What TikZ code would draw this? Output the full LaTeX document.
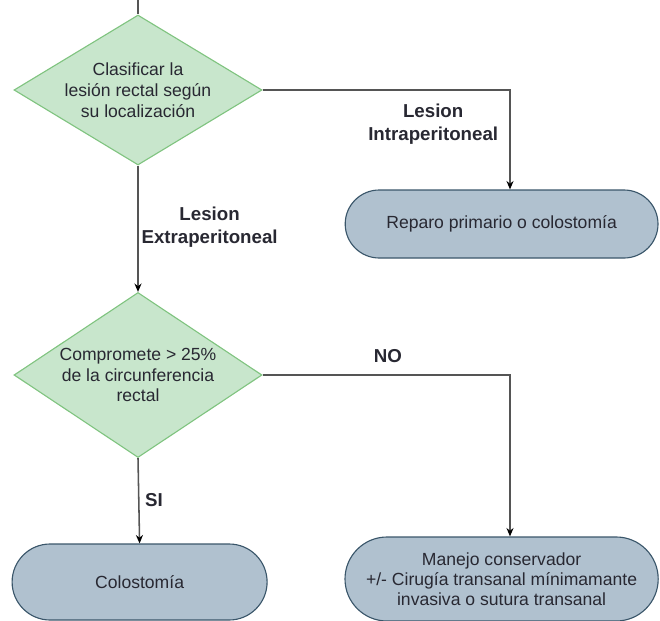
\documentclass[tikz,border=0pt]{standalone}
\usepackage{fontspec}
\setmainfont{Liberation Sans}
\usepackage{tikz}
\usetikzlibrary{calc}
\usetikzlibrary{shapes.geometric, shapes.misc}
\usetikzlibrary{arrows.meta}
\usepackage{xcolor}

\definecolor{decfill}{RGB}{200,230,204}
\definecolor{decdraw}{RGB}{128,196,128}
\definecolor{endfill}{RGB}{176,193,207}
\definecolor{enddraw}{RGB}{58,86,106}
\definecolor{flowgray}{RGB}{85,85,85}
\definecolor{txt}{RGB}{40,40,50}

\begin{document}
\begin{tikzpicture}[
	decision/.style = {diamond, draw=decdraw, fill=decfill, line width=0.8pt, inner sep=0pt, align=center, text=txt, font=\fontsize{12.5}{14.8}\selectfont},
	terminal/.style = {rounded rectangle, draw=enddraw, fill=endfill, line width=0.8pt, inner sep=0pt, align=center, text=txt, font=\fontsize{12.5}{14.3}\selectfont},
	flow/.style = {draw=flowgray, line width=1.1pt, -{Stealth[length=6pt, width=5pt, color=black]}},
	plain/.style = {draw=flowgray, line width=1.1pt},
	lab/.style = {font=\fontsize{13.3}{16}\selectfont\bfseries, text=txt, align=center, inner sep=1pt}
]

% Fixed frame with the reference proportions
\useasboundingbox (0,0) rectangle (16.5,-15.525);

% Decisions
\node[decision, aspect=1.65, minimum width=6.2cm, minimum height=3.75cm] (clasif) at (3.45,-2.25)
  {Clasificar la\\lesión rectal según\\su localización};
\node[decision, aspect=1.5, minimum width=6.2cm, minimum height=4.125cm] (compr) at (3.45,-9.375)
  {Compromete > 25\%\\de la circunferencia\\rectal};

% Outcomes
\node[terminal, minimum width=7.82cm, minimum height=1.7cm] (reparo) at (12.54,-5.6)
  {Reparo primario o colostomía};
\node[terminal, minimum width=6.375cm, minimum height=1.9cm] (colost) at (3.49,-14.55)
  {Colostomía};
\node[terminal, minimum width=7.83cm, minimum height=2.1cm] (manejo) at (12.54,-14.475)
  {Manejo conservador\\+/- Cirugía transanal mínimamante\\invasiva o sutura transanal};

% Bends and entry stub
\coordinate (start) at (3.45,0);
\coordinate (bendA) at (12.75,-2.25);
\coordinate (bendB) at (12.75,-9.375);

% Connectors
\draw[plain] (start) -- (clasif.north);
\draw[flow] (clasif.east) -- (bendA) -- (bendA |- reparo.north);
\draw[flow] (clasif.south) -- (compr.north);
\draw[flow] (compr.east) -- (bendB) -- (bendB |- manejo.north);
\draw[flow] (compr.south) -- (colost.north);

% Branch labels
\node[lab] (intra) at (10.83,-3.1) {Lesion\\Intraperitoneal};
\node[lab] (extra) at (5.24,-5.68) {Lesion\\Extraperitoneal};
\node[lab] (no) at (9.7,-8.9) {NO};
\node[lab] (si) at (3.85,-12.5) {SI};

\end{tikzpicture}
\end{document}
